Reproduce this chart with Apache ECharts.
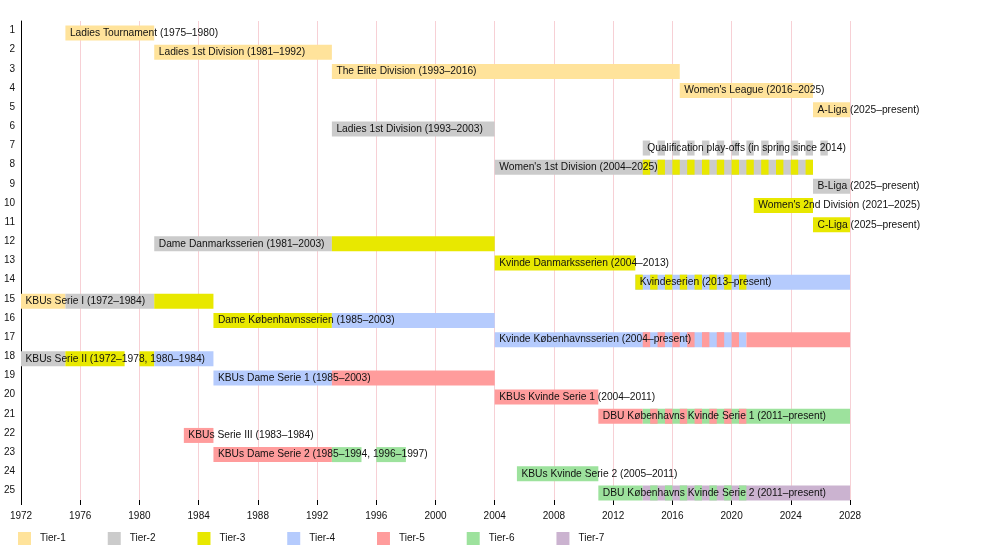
<!DOCTYPE html>
<html>
<head>
<meta charset="utf-8">
<title>Danish women's football league system</title>
<script src="https://cdn.jsdelivr.net/npm/echarts@6/dist/echarts.min.js"></script>
<style>
    html, body { margin: 0; padding: 0; background: #fff; }
    #main { width: 1000px; height: 550px; }
</style>
</head>
<body>
<div id="main"></div>
<script>
var rowNumbers = ['1', '2', '3', '4', '5', '6', '7', '8', '9', '10', '11', '12', '13',
    '14', '15', '16', '17', '18', '19', '20', '21', '22', '23', '24', '25'];

var tierNames = ['Tier-1', 'Tier-2', 'Tier-3', 'Tier-4', 'Tier-5', 'Tier-6', 'Tier-7'];
var tierColors = ['#ffe39b', '#cbcbcb', '#e8e800', '#b5cbfd', '#ff9c9c', '#9de29d', '#cbb3d0'];

var barLabels = [
    'Ladies Tournament (1975–1980)',
    'Ladies 1st Division (1981–1992)',
    'The Elite Division (1993–2016)',
    'Women\'s League (2016–2025)',
    'A-Liga (2025–present)',
    'Ladies 1st Division (1993–2003)',
    'Qualification play-offs (in spring since 2014)',
    'Women\'s 1st Division (2004–2025)',
    'B-Liga (2025–present)',
    'Women\'s 2nd Division (2021–2025)',
    'C-Liga (2025–present)',
    'Dame Danmarksserien (1981–2003)',
    'Kvinde Danmarksserien (2004–2013)',
    'Kvindeserien (2013–present)',
    'KBUs Serie I (1972–1984)',
    'Dame Københavnsserien (1985–2003)',
    'Kvinde Københavnsserien (2004–present)',
    'KBUs Serie II (1972–1978, 1980–1984)',
    'KBUs Dame Serie 1 (1985–2003)',
    'KBUs Kvinde Serie 1 (2004–2011)',
    'DBU Københavns Kvinde Serie 1 (2011–present)',
    'KBUs Serie III (1983–1984)',
    'KBUs Dame Serie 2 (1985–1994, 1996–1997)',
    'KBUs Kvinde Serie 2 (2005–2011)',
    'DBU Københavns Kvinde Serie 2 (2011–present)'
];

// [row, from, to, tier]
var segments = [
    [1, 1975, 1981, 1],
    [2, 1981, 1993, 1],
    [3, 1993, 2016.5, 1],
    [4, 2016.5, 2025.5, 1],
    [5, 2025.5, 2028, 1],
    [6, 1993, 2004, 2],
    [8, 2004, 2025.5, 2],
    [9, 2025.5, 2028, 2],
    [10, 2021.5, 2025.5, 3],
    [11, 2025.5, 2028, 3],
    [12, 1981, 1993, 2], [12, 1993, 2004, 3],
    [13, 2004, 2013.5, 3],
    [14, 2013.5, 2028, 4],
    [15, 1972, 1975, 1], [15, 1975, 1981, 2], [15, 1981, 1985, 3],
    [16, 1985, 1993, 3], [16, 1993, 2004, 4],
    [17, 2004, 2021, 4], [17, 2021, 2028, 5],
    [18, 1972, 1975, 2], [18, 1975, 1979, 3], [18, 1980, 1981, 3], [18, 1981, 1985, 4],
    [19, 1985, 1993, 4], [19, 1993, 2004, 5],
    [20, 2004, 2011, 5],
    [21, 2011, 2014, 5], [21, 2014, 2028, 6],
    [22, 1983, 1985, 5],
    [23, 1985, 1993, 5], [23, 1993, 1995, 6], [23, 1996, 1998, 6],
    [24, 2005.5, 2011, 6],
    [25, 2011, 2014, 6], [25, 2014, 2028, 7]
];

// half seasons drawn on top: [row, tier, start years]
var halfSeasons = [
    [7, 2, [2014, 2015, 2016, 2017, 2018, 2019, 2020, 2021, 2022, 2023, 2024, 2025, 2026]],
    [8, 3, [2014, 2015, 2016, 2017, 2018, 2019, 2020, 2021, 2022, 2023, 2024, 2025]],
    [14, 3, [2013.5, 2014.5, 2015.5, 2016.5, 2017.5, 2018.5, 2019.5, 2020.5]],
    [17, 5, [2014, 2015, 2016, 2017, 2018, 2019, 2020]],
    [21, 5, [2014.5, 2015.5, 2016.5, 2017.5, 2018.5, 2019.5, 2020.5]],
    [25, 6, [2014.5, 2015.5, 2016.5, 2017.5, 2018.5, 2019.5, 2020.5]]
];
var halfLength = 0.5;

var FONT = '"Liberation Sans", Arial, sans-serif';
var BAR_H = 15;
var BAR_SHIFT = 2.5;

// 每个tier一组数据 [from, to, rowIndex, isHalf]
function tierData(tier) {
    var list = [];
    segments.forEach(function (s) {
        if (s[3] === tier) list.push([s[1], s[2], s[0] - 1, 0]);
    });
    halfSeasons.forEach(function (h) {
        if (h[1] !== tier) return;
        h[2].forEach(function (y) {
            list.push([y, y + halfLength, h[0] - 1, 1]);
        });
    });
    return list;
}

// label start = first year used in the row
function labelData() {
    var starts = [];
    segments.forEach(function (s) {
        var i = s[0] - 1;
        if (starts[i] === undefined || s[1] < starts[i]) starts[i] = s[1];
    });
    halfSeasons.forEach(function (h) {
        var i = h[0] - 1;
        if (starts[i] === undefined || h[2][0] < starts[i]) starts[i] = h[2][0];
    });
    return barLabels.map(function (t, i) {
        return [starts[i], i];
    });
}

function renderBar(params, api) {
    var a = api.coord([api.value(0), api.value(2)]);
    var b = api.coord([api.value(1), api.value(2)]);
    return {
        type: 'rect',
        z2: api.value(3) ? 10 : 1,
        shape: { x: a[0], y: a[1] + BAR_SHIFT - BAR_H / 2, width: b[0] - a[0], height: BAR_H },
        style: { fill: api.visual('color') }
    };
}

function renderLabel(params, api) {
    var p = api.coord([api.value(0), api.value(1)]);
    return {
        type: 'text',
        z2: 50,
        style: {
            x: p[0] + 4.5,
            y: p[1] + BAR_SHIFT,
            text: barLabels[params.dataIndex],
            fill: '#111',
            font: '10.25px ' + FONT,
            verticalAlign: 'middle',
            align: 'left'
        }
    };
}

var series = tierNames.map(function (name, i) {
    return {
        name: name,
        type: 'custom',
        renderItem: renderBar,
        itemStyle: { color: tierColors[i] },
        encode: { x: [0, 1], y: 2 },
        data: tierData(i + 1)
    };
});
series.push({
    name: 'labels',
    type: 'custom',
    renderItem: renderLabel,
    encode: { x: 0, y: 1 },
    z: 5,
    silent: true,
    data: labelData()
});

var chart = echarts.init(document.getElementById('main'));
chart.setOption({
    animation: false,
    backgroundColor: '#fff',
    textStyle: { fontFamily: FONT },
    grid: { left: 21, right: 150, top: 21, bottom: 50 },
    legend: {
        data: tierNames,
        left: 18,
        top: 532,
        padding: 0,
        icon: 'rect',
        itemWidth: 13,
        itemHeight: 13,
        itemGap: 42,
        textStyle: { fontSize: 10, color: '#111', fontFamily: FONT, padding: [0, 0, 0, 4] }
    },
    xAxis: {
        type: 'value',
        min: 1972,
        max: 2028,
        interval: 4,
        axisLine: { lineStyle: { color: '#000', width: 1 } },
        axisTick: { show: true, length: 5, lineStyle: { color: '#000' } },
        axisLabel: {
            fontSize: 10, color: '#111', margin: 11, fontFamily: FONT,
            formatter: function (v) { return String(v); }
        },
        splitLine: { show: true, lineStyle: { color: '#f7d0d5', width: 1 } }
    },
    yAxis: {
        type: 'category',
        inverse: true,
        data: rowNumbers,
        axisLine: { show: true, lineStyle: { color: '#000', width: 1 } },
        axisTick: { show: false },
        axisLabel: { fontSize: 10, color: '#111', margin: 6, fontFamily: FONT, padding: [0, 0, 3, 0] },
        splitLine: { show: false }
    },
    series: series
});
</script>
</body>
</html>
